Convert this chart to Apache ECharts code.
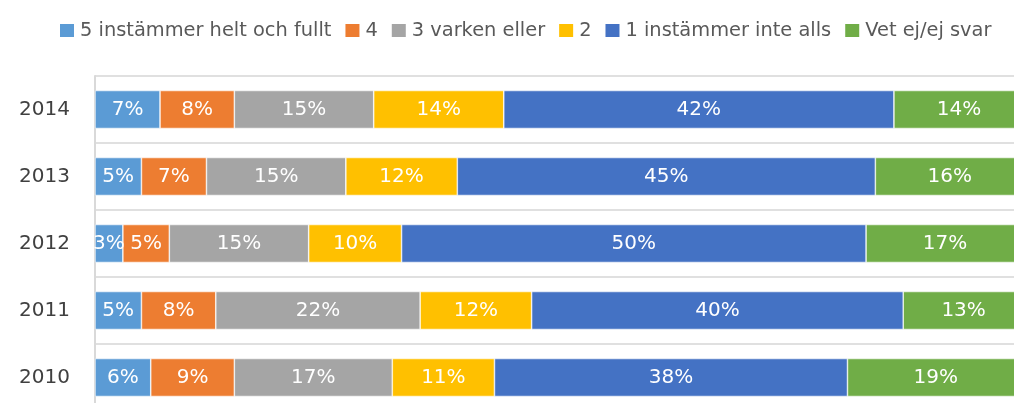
<!DOCTYPE html>
<html>
<head>
<meta charset="utf-8">
<script src="https://cdn.jsdelivr.net/npm/echarts@6/dist/echarts.min.js"></script>
<style>
html,body{margin:0;padding:0;background:#fff;}
#chart{width:1014px;height:403px;}
</style>
</head>
<body>
<div id="chart"></div>
<script>
// years, bottom to top
var years = ['2010', '2011', '2012', '2013', '2014']
var seriesNames = ['5 instämmer helt och fullt', '4', '3 varken eller', '2', '1 instämmer inte alls', 'Vet ej/ej svar']
var colors = ['#5b9bd5', '#ed7d31', '#a5a5a5', '#ffc000', '#4472c4', '#70ad47']

// percent per answer, same order as years
var s5 = [6, 5, 3, 5, 7]
var s4 = [9, 8, 5, 7, 8]
var s3 = [17, 22, 15, 15, 15]
var s2 = [11, 12, 10, 12, 14]
var s1 = [38, 40, 50, 45, 42]
var sVet = [19, 13, 17, 16, 14]

var allData = [s5, s4, s3, s2, s1, sVet]
var fontName = 'DejaVu Sans'

var myChart = echarts.init(document.getElementById('chart'))

var series = seriesNames.map(function (name, i) {
    return {
        name: name,
        type: 'bar',
        stack: 'total',
        barWidth: 38,
        data: allData[i],
        itemStyle: {
            color: colors[i],
            borderColor: '#ffffff',
            borderWidth: 0.6
        },
        label: {
            show: true,
            position: 'inside',
            formatter: '{c}%',
            color: '#ffffff',
            fontFamily: fontName,
            fontSize: 20
        }
    }
})

var option = {
    animation: false,
    color: colors,
    legend: {
        data: seriesNames,
        left: 53,
        top: 16,
        itemWidth: 16,
        itemHeight: 15,
        itemGap: 12,
        icon: 'rect',
        textStyle: {
            color: '#595959',
            fontFamily: fontName,
            fontSize: 19.4
        }
    },
    // chart runs a bit past the right and bottom edges of the picture
    grid: {
        left: 95,
        top: 76,
        width: 929,
        height: 335,
        outerBoundsMode: 'none'
    },
    xAxis: {
        type: 'value',
        min: 0,
        max: 100,
        show: false
    },
    yAxis: {
        type: 'category',
        data: years,
        axisLine: {
            show: true,
            lineStyle: { color: '#d9d9d9', width: 2 }
        },
        axisTick: { show: false },
        axisLabel: {
            margin: 25,
            color: '#404040',
            fontFamily: fontName,
            fontSize: 20
        },
        splitLine: {
            show: true,
            lineStyle: { color: '#e0e0e0', width: 2 }
        }
    },
    series: series
}

myChart.setOption(option, true)
</script>
</body>
</html>
